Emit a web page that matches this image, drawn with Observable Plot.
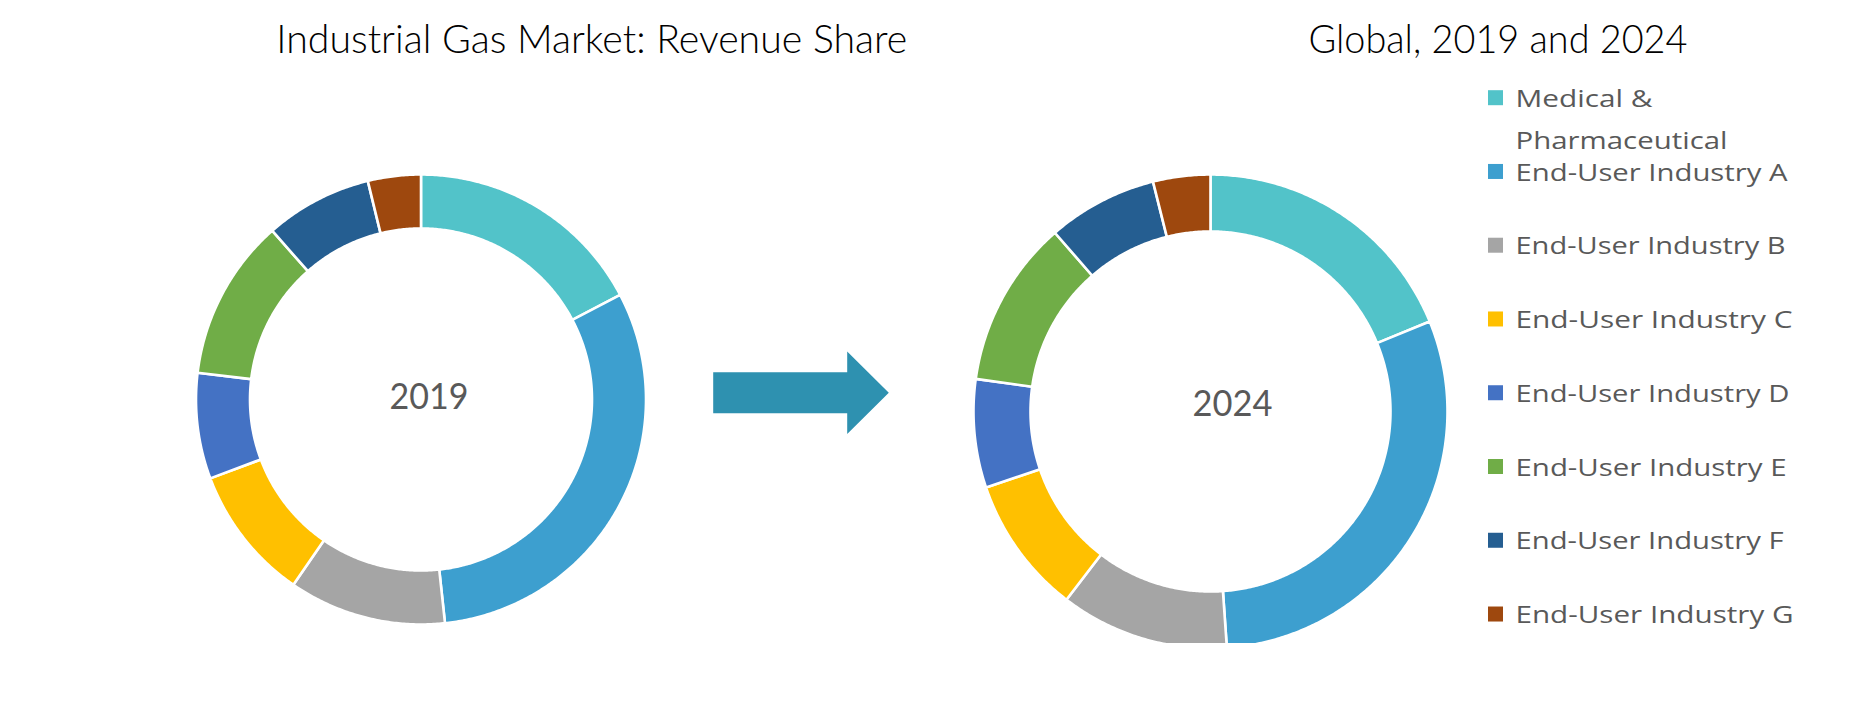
<!DOCTYPE html>
<html>
<head>
<meta charset="utf-8">
<script src="https://cdn.jsdelivr.net/npm/d3@7"></script>
<script src="https://cdn.jsdelivr.net/npm/@observablehq/plot@0.6"></script>
<style>
  html, body { margin: 0; padding: 0; background: #fff; }
  body { width: 1852px; height: 722px; overflow: hidden; }
  #chart svg { display: block; }
</style>
</head>
<body>
<div id="chart"></div>
<script>
// ---------------- data ----------------
const categories = [
  "Medical & Pharmaceutical",
  "End-User Industry A",
  "End-User Industry B",
  "End-User Industry C",
  "End-User Industry D",
  "End-User Industry E",
  "End-User Industry F",
  "End-User Industry G"
];
const legendLabels = [
  "Medical &\nPharmaceutical",
  "End-User Industry A",
  "End-User Industry B",
  "End-User Industry C",
  "End-User Industry D",
  "End-User Industry E",
  "End-User Industry F",
  "End-User Industry G"
];
const years = ["2019", "2024"];
const share2019 = [17.3, 31.0, 11.3, 9.7, 7.6, 11.6, 7.7, 3.8];
const share2024 = [18.8, 30.1, 11.5, 9.4, 7.4, 11.4, 7.5, 3.9];
const titleLeft = "Industrial Gas Market: Revenue Share";
const titleRight = "Global, 2019 and 2024";

// ---------------- styles / layout ----------------
const colors = ["#52C3C9", "#3D9FCF", "#A5A5A5", "#FFC000", "#4472C4", "#70AD47", "#255E91", "#9E480E"];
const W = 1852, H = 643;
const donutLayout = {
  "2019": {cx: 420.5, cy: 399, r0: 171, r1: 225, lx: 428.5, ly: 408.3},
  "2024": {cx: 1210, cy: 411, r0: 180, r1: 237, lx: 1232, ly: 415}
};
const arrowLayout = {x0: 712.7, xh: 846.7, xt: 888.3, yc: 392.3, shaft: 20.5, head: 41.2, color: "#2E91B0"};
const legendLayout = {x0: 1488, size: 15, tx: 1515, y0: 97.7, step: 73.76, fontSize: 23.5, lineHeight: 1.8};
const titleLayout = [
  {text: titleLeft, x: 591.3, y: 52.7},
  {text: titleRight, x: 1497.5, y: 52.5}
];
const textWidths = {
  [titleLeft]: 631, [titleRight]: 379, "2019": 79, "2024": 80,
  "Medical &": 137, "Pharmaceutical": 212,
  "End-User Industry A": 272, "End-User Industry B": 270, "End-User Industry C": 277,
  "End-User Industry D": 274, "End-User Industry E": 271, "End-User Industry F": 268,
  "End-User Industry G": 278
};

// ---------------- build geometry from data ----------------
const slices = [];
years.forEach((yr, k) => {
  const vals = k ? share2024 : share2019;
  const total = d3.sum(vals);
  const L = donutLayout[yr];
  let acc = 0;
  vals.forEach((v, i) => {
    const a0 = acc / total * 2 * Math.PI;
    const a1 = (acc + v) / total * 2 * Math.PI;
    acc += v;
    const n = Math.max(4, Math.ceil((a1 - a0) / (Math.PI / 360)));
    const key = yr + "-" + i;
    for (let j = 0; j <= n; j++) {
      const a = a0 + (a1 - a0) * j / n;
      slices.push({key, category: categories[i], x: L.cx + L.r1 * Math.sin(a), y: L.cy - L.r1 * Math.cos(a)});
    }
    for (let j = n; j >= 0; j--) {
      const a = a0 + (a1 - a0) * j / n;
      slices.push({key, category: categories[i], x: L.cx + L.r0 * Math.sin(a), y: L.cy - L.r0 * Math.cos(a)});
    }
  });
});

const A = arrowLayout;
const arrow = [
  [A.x0, A.yc - A.shaft], [A.xh, A.yc - A.shaft], [A.xh, A.yc - A.head], [A.xt, A.yc],
  [A.xh, A.yc + A.head], [A.xh, A.yc + A.shaft], [A.x0, A.yc + A.shaft]
].map(([x, y]) => ({x, y}));

const centerLabels = years.map(yr => ({text: yr, x: donutLayout[yr].lx, y: donutLayout[yr].ly}));

const legendRows = categories.map((c, i) => ({
  category: c,
  label: legendLabels[i],
  cy: legendLayout.y0 + i * legendLayout.step
}));

// Plot's "top" line anchor puts the first baseline at 0.71em * lineHeight; we want it ~8.7px below row centre
const LL = legendLayout;
const legendDy = 8.7 - 0.71 * LL.lineHeight * LL.fontSize;

// ---------------- plot ----------------
const chart = Plot.plot({
  width: W,
  height: H,
  margin: 0,
  style: {background: "white"},
  x: {type: "linear", domain: [0, W], range: [0, W], axis: null},
  y: {type: "linear", domain: [0, H], range: [0, H], axis: null},
  color: {domain: categories, range: colors},
  marks: [
    Plot.line(slices, {
      x: "x", y: "y", z: "key", fill: "category",
      stroke: "white", strokeWidth: 2.6, curve: "linear-closed", clip: true
    }),
    Plot.line(arrow, {x: "x", y: "y", fill: A.color, stroke: "none", curve: "linear-closed"}),
    Plot.text(centerLabels, {
      x: "x", y: "y", text: "text", textAnchor: "middle", lineAnchor: "bottom",
      fontFamily: "Lato", fontSize: 37, fill: "#595959"
    }),
    Plot.text(titleLayout, {
      x: "x", y: "y", text: "text", textAnchor: "middle", lineAnchor: "bottom",
      fontFamily: "Lato", fontWeight: 300, fontSize: 40, fill: "#000000"
    }),
    Plot.rect(legendRows, {
      x1: () => LL.x0, x2: () => LL.x0 + LL.size,
      y1: d => d.cy - LL.size / 2, y2: d => d.cy + LL.size / 2,
      fill: "category"
    }),
    Plot.text(legendRows, {
      x: () => LL.tx, y: "cy", text: "label", textAnchor: "start",
      lineAnchor: "top", dy: legendDy, lineHeight: LL.lineHeight,
      fontFamily: "Open Sans", fontSize: LL.fontSize, fill: "#595959"
    })
  ]
});

// fit text widths to the reference typography
chart.querySelectorAll("text").forEach(t => {
  const spans = t.querySelectorAll("tspan");
  const targets = spans.length ? Array.from(spans) : [t];
  targets.forEach(el => {
    const w = textWidths[el.textContent];
    if (w) {
      el.setAttribute("textLength", w);
      el.setAttribute("lengthAdjust", "spacingAndGlyphs");
    }
  });
});

document.getElementById("chart").appendChild(chart);
</script>
</body>
</html>
